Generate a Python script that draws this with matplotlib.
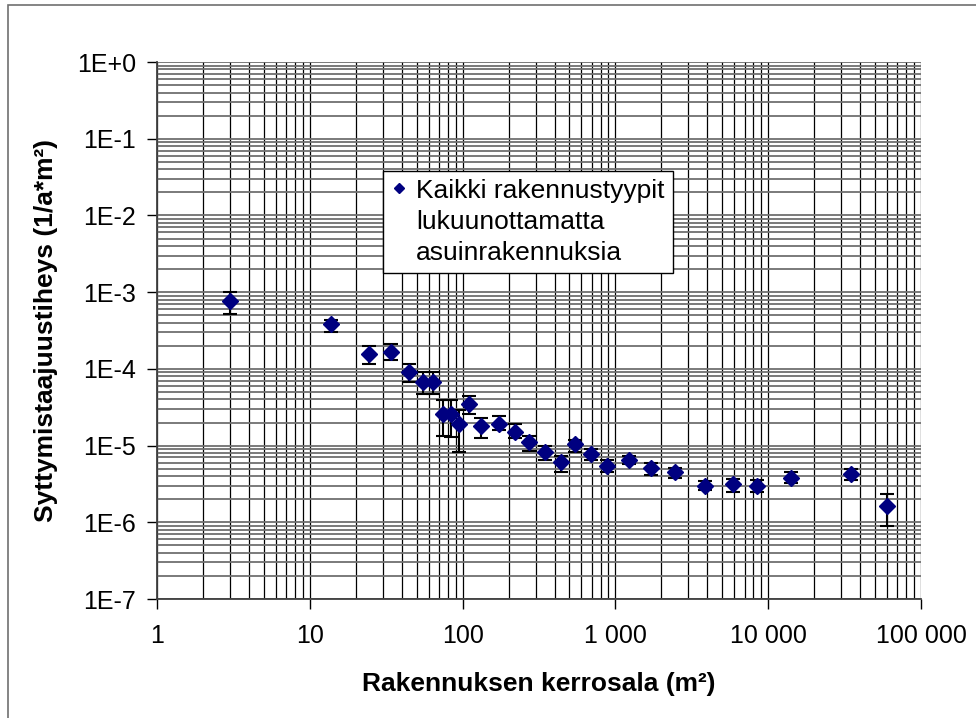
import matplotlib.pyplot as plt
import matplotlib.ticker as mticker
from matplotlib.lines import Line2D
from matplotlib.patches import Rectangle

plt.rcParams['font.family'] = ['Liberation Sans', 'DejaVu Sans']

# kerrosala (m2)
area = [3, 13.7, 24.4, 34, 44.8, 55.3, 63.7, 74.1, 84, 95.2,
        110, 132.5, 173, 220, 272, 346, 441, 544, 689, 877,
        1222, 1718, 2444, 3857, 5888, 8490, 14100, 35000, 59900]
# syttymistaajuustiheys (1/a*m2)
freq = [7.65e-4, 3.84e-4, 1.56e-4, 1.67e-4, 9.2e-5, 6.8e-5, 6.8e-5, 2.57e-5, 2.57e-5, 1.9e-5,
        3.48e-5, 1.8e-5, 1.92e-5, 1.51e-5, 1.12e-5, 8.3e-6, 6.15e-6, 1.05e-5, 7.75e-6, 5.45e-6,
        6.47e-6, 5.14e-6, 4.56e-6, 2.96e-6, 3.15e-6, 2.96e-6, 3.8e-6, 4.25e-6, 1.63e-6]
upper = [1.0e-3, 4.37e-4, 2.0e-4, 2.12e-4, 1.16e-4, 9.2e-5, 9.2e-5, 3.9e-5, 3.9e-5, 2.9e-5,
         4.46e-5, 2.28e-5, 2.45e-5, 1.9e-5, 1.34e-5, 9.9e-6, 7.3e-6, 1.19e-5, 8.9e-6, 6.5e-6,
         7.3e-6, 5.86e-6, 5.14e-6, 3.44e-6, 3.65e-6, 3.55e-6, 4.5e-6, 4.94e-6, 2.33e-6]
lower = [5.2e-4, 3.0e-4, 1.16e-4, 1.31e-4, 6.7e-5, 4.7e-5, 4.7e-5, 1.34e-5, 1.28e-5, 8.3e-6,
         2.6e-5, 1.25e-5, 1.59e-5, 1.24e-5, 8.4e-6, 6.5e-6, 4.5e-6, 8.3e-6, 6.5e-6, 4.5e-6,
         5.7e-6, 4.2e-6, 3.77e-6, 2.6e-6, 2.48e-6, 2.48e-6, 3.27e-6, 3.55e-6, 9.0e-7]

x_labels = ['1', '10', '100', '1 000', '10 000', '100 000']
y_labels = ['1E-7', '1E-6', '1E-5', '1E-4', '1E-3', '1E-2', '1E-1', '1E+0']

fig = plt.figure(figsize=(9.76, 7.18), dpi=100)
ax = fig.add_axes([0.1609, 0.1657, 0.7827, 0.7479])

yerr = [[f - lo for f, lo in zip(freq, lower)], [up - f for f, up in zip(freq, upper)]]
ax.errorbar(area, freq, yerr=yerr, fmt='none', ecolor='black', elinewidth=1.5,
            capsize=5.3, capthick=1.5, zorder=3)
ax.plot(area, freq, linestyle='none', marker='D', markersize=8.5,
        color='#000080', zorder=4)

ax.set_xscale('log')
ax.set_yscale('log')
ax.set_xlim(1, 1e5)
ax.set_ylim(1e-7, 1)

ax.xaxis.set_major_locator(mticker.FixedLocator([10 ** i for i in range(6)]))
ax.xaxis.set_major_formatter(mticker.FixedFormatter(x_labels))
ax.yaxis.set_major_locator(mticker.FixedLocator([10.0 ** i for i in range(-7, 1)]))
ax.yaxis.set_major_formatter(mticker.FixedFormatter(y_labels))
ax.xaxis.set_minor_locator(mticker.LogLocator(base=10, subs=range(2, 10), numticks=20))
ax.yaxis.set_minor_locator(mticker.LogLocator(base=10, subs=range(2, 10), numticks=20))
ax.xaxis.set_minor_formatter(mticker.NullFormatter())
ax.yaxis.set_minor_formatter(mticker.NullFormatter())

ax.tick_params(which='major', direction='out', length=7, width=1, labelsize=18)
ax.tick_params(axis='x', which='major', pad=11)
ax.tick_params(axis='y', which='major', pad=8)
ax.tick_params(which='minor', length=0)

# ruudukko
ax.grid(True, axis='x', which='both', color='black', linewidth=0.9, zorder=0)
ax.grid(True, axis='y', which='both', color='#707070', linewidth=1.3, zorder=0)
ax.set_axisbelow(True)

for s in ['top', 'right']:
    ax.spines[s].set_visible(False)
for s in ['left', 'bottom']:
    ax.spines[s].set_color('#404040')
    ax.spines[s].set_linewidth(1.3)

ax.set_xlabel('Rakennuksen kerrosala (m²)', fontsize=19, fontweight='bold', labelpad=17)
ax.set_ylabel('Syttymistaajuustiheys (1/a*m²)', fontsize=19, fontweight='bold', labelpad=14)

handle = Line2D([], [], linestyle='none', marker='D', markersize=5.5, color='#000080')
leg = ax.legend([handle], ['Kaikki rakennustyypit\nlukuunottamatta\nasuinrakennuksia'],
                loc='upper left', bbox_to_anchor=(0.296, 0.797), fontsize=19,
                frameon=True, fancybox=False, framealpha=1, edgecolor='black',
                handlelength=0.6, handletextpad=0.35, borderpad=0.3, borderaxespad=0)
leg.get_frame().set_linewidth(1.0)
leg.get_texts()[0].set_linespacing(1.38)
# merkki ensimmäisen rivin kohdalle
try:
    for row in leg._legend_handle_box.get_children()[0].get_children():
        row.align = 'top'
except Exception:
    pass

# ulkokehys
fig.patches.append(Rectangle((8 / 976, -0.05), 1.1, (1 - 5 / 718) + 0.05,
                             transform=fig.transFigure, fill=False,
                             edgecolor='#707070', linewidth=1.2))

fig.savefig('out.png', dpi=100)
